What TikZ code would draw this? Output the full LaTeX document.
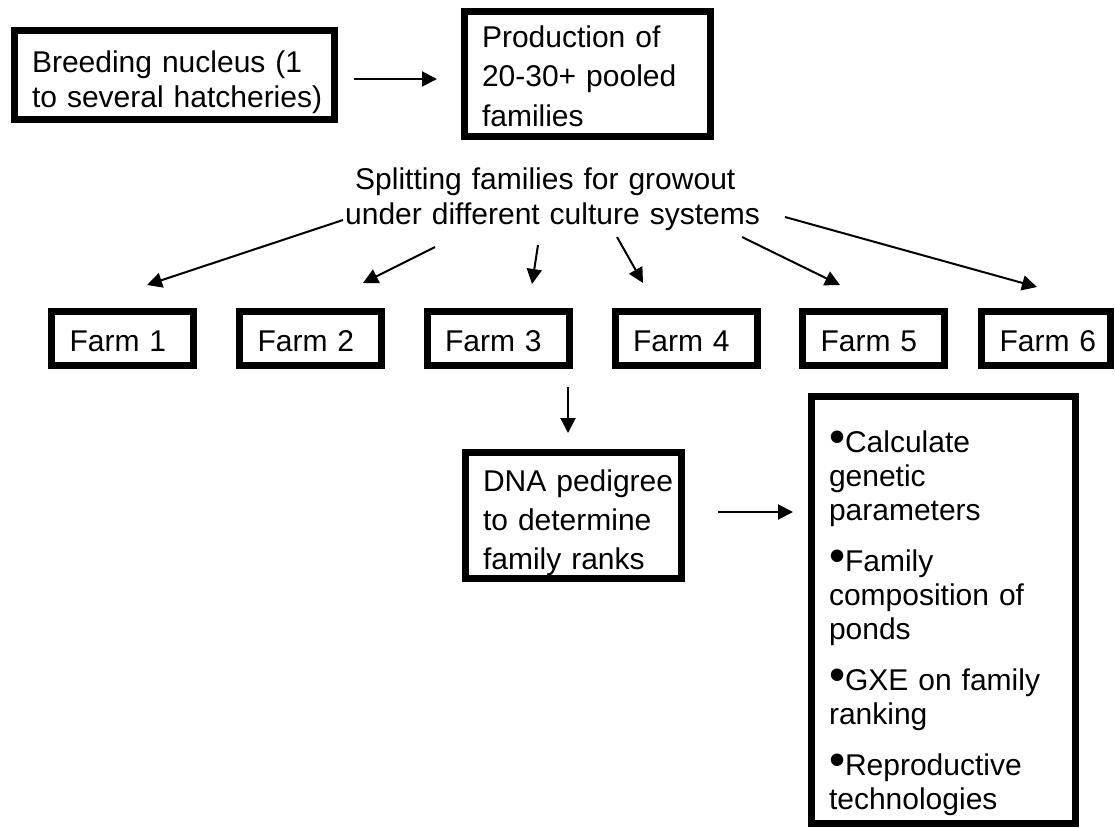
\documentclass[tikz,border=0pt]{standalone}
\usepackage{fontspec}
\setmainfont{Liberation Sans}
\usetikzlibrary{arrows.meta}
\hyphenpenalty=10000
\exhyphenpenalty=10000
\newcommand\itembul{\makebox[16pt][l]{\raisebox{-0.5pt}{\fontsize{46}{46}\selectfont\textbullet}}}

\begin{document}
\begin{tikzpicture}[x=1pt, y=-1pt, font=\fontsize{30}{35}\selectfont,
  box/.style={draw, line width=7pt, outer sep=0pt, inner ysep=0pt, inner xsep=17.5pt, align=left},
  farm/.style={box, inner xsep=18pt, text width=106pt, text height=39.5pt, text depth=14.5pt},
  arr/.style={-{Triangle[length=15pt,width=15pt]}, line width=2pt}]
\useasboundingbox (0,0) rectangle (1115,827);

% top row
\node[box, text width=285pt, text height=41.5pt, text depth=47.5pt] (breed) at (174.5,75)
  {Breeding nucleus (1\\to~several~hatcheries)};
\node[box, text width=211pt, text height=35.5pt, text depth=89.5pt, font=\fontsize{30}{39.5}\selectfont] (prod) at (587.5,74)
  {Production of\\20-30+~pooled\\families};
\draw[arr, shorten <=19.5pt, shorten >=27.5pt] ([yshift=-4pt]breed.east) -- ([yshift=-4pt]breed.east -| prod.west);

% splitting
\node[text width=420pt, align=left, inner sep=0pt, anchor=base west] (split) at (345,189)
  {\hspace*{10pt}Splitting families for growout\\under different culture systems};
\coordinate (s1) at (343,220);
\coordinate (s2) at (435,247);
\coordinate (s3) at (538,245);
\coordinate (s4) at (617,237);
\coordinate (s5) at (742,237);
\coordinate (s6) at (785,217);

% farms
\foreach \i/\cx in {1/122.5, 2/310.5, 3/498, 4/686, 5/873.5}
  \node[farm] (f\i) at (\cx,338.5) {Farm~\i};
\node[farm, text width=93pt] (f6) at (1046,338.5) {Farm~6};

\foreach \i/\dx/\dy in {1/24.5/-26.5, 2/52.5/-28.5, 3/34/-27.5, 4/-43/-28.5, 5/-33.5/-26.5, 6/-9/-24.5}
  \draw[arr] (s\i) -- ([shift={(\dx,\dy)}]f\i.north);

% pedigree and outcomes
\node[box, text width=181pt, text height=38.5pt, text depth=87.5pt, font=\fontsize{30}{39}\selectfont] (dna) at (573.5,515.5)
  {DNA~pedigree\\to~determine\\family~ranks};
\node[box, text width=229pt, text height=55.5pt, text depth=371.5pt, font=\fontsize{30}{34}\selectfont] (uses) at (943.5,610)
  {\itembul Calculate\\genetic\\parameters\\[17pt]
   \itembul Family\\composition~of\\ponds\\[17pt]
   \itembul GXE~on~family\\ranking\\[17pt]
   \itembul Reproductive\\technologies};

\draw[arr, shorten <=21.5pt, shorten >=19.5pt] ([xshift=-5.5pt]dna.north |- f3.south) -- ([xshift=-5.5pt]dna.north);
\draw[arr, shorten <=36.5pt, shorten >=18.5pt] ([yshift=3.5pt]dna.east) -- ([yshift=3.5pt]dna.east -| uses.west);
\end{tikzpicture}
\end{document}
